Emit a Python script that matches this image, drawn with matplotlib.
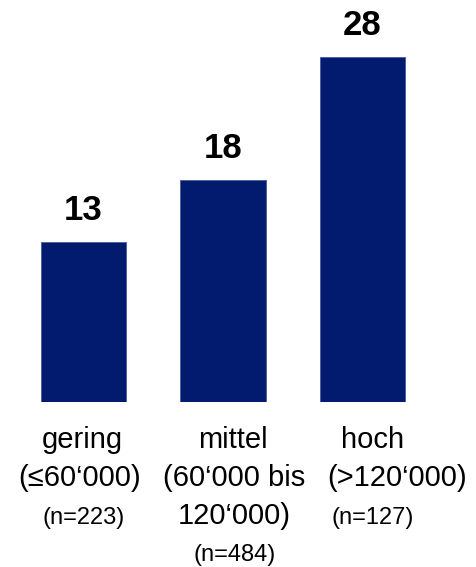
import matplotlib.pyplot as plt

plt.rcParams['font.family'] = ['Liberation Sans', 'DejaVu Sans']

# Daten
werte = [13, 18, 28]
gruppen = ['gering', 'mittel', 'hoch']
bereiche = [['(≤60‘000)'], ['(60‘000 bis', '120‘000)'], ['(>120‘000)']]
fallzahlen = ['(n=223)', '(n=484)', '(n=127)']

farbe = '#021b6e'
x = list(range(len(werte)))

fig = plt.figure(figsize=(4.77, 5.67), dpi=100)
ax = fig.add_axes([0, 0.291, 1, 0.652])

ax.bar(x, werte, width=0.616, color=farbe, edgecolor='#4a5a9a', linewidth=0.6)
for xi, w in zip(x, werte):
    ax.annotate(str(w), xy=(xi, w), xytext=(0, 22 * 0.72), textcoords='offset points',
                ha='center', va='baseline', fontsize=25, fontweight='bold')

ax.set_xlim(-0.5986, 2.821)
ax.set_ylim(0, 30)
ax.axis('off')

# Beschriftung unter den Balken, Abstaende in px unter der Grundlinie
pos_gruppe = [-0.005, 1.072, 2.075]
pos_bereich = [-0.025, 1.081, 2.25]
pos_n = [0.0, 1.081, 2.07]
zeilen_px = [46, 84, 122, 159]


def schreibe(text, xpos, px, groesse):
    ax.annotate(text, xy=(xpos, 0), xytext=(0, -px * 0.72),
                textcoords='offset points', ha='center', va='baseline',
                fontsize=groesse, annotation_clip=False)


for i in x:
    schreibe(gruppen[i], pos_gruppe[i], zeilen_px[0], 21)
    for k, zeile in enumerate(bereiche[i]):
        schreibe(zeile, pos_bereich[i], zeilen_px[1 + k], 21)
    schreibe(fallzahlen[i], pos_n[i], zeilen_px[1 + len(bereiche[i])], 17)

fig.savefig('out.png', dpi=100)
